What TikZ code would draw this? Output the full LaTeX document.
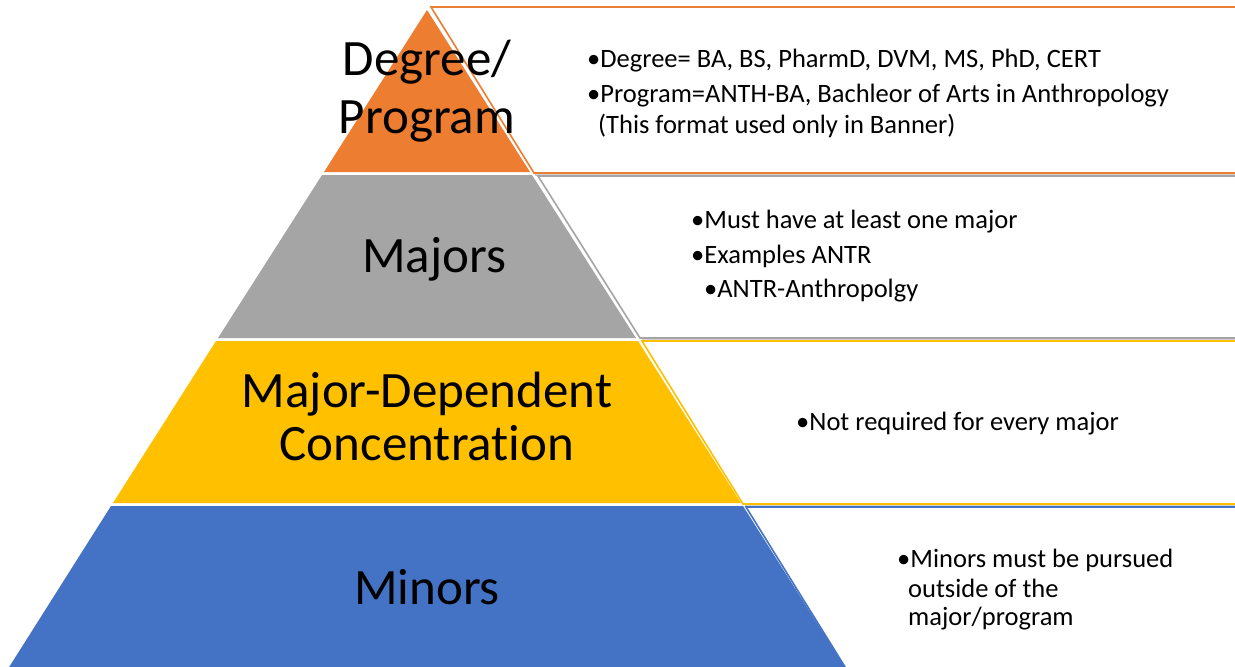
\documentclass[tikz,border=0pt]{standalone}
\usepackage{fontspec}
\setmainfont{Carlito}[Ligatures={NoCommon}]
\definecolor{cOrange}{HTML}{ED7D31}
\definecolor{cGray}{HTML}{A5A5A5}
\definecolor{cYellow}{HTML}{FFC000}
\definecolor{cBlue}{HTML}{4472C4}
\definecolor{cShadow}{HTML}{D0D0D0}
\tikzset{
  layerlabel/.style={align=center, anchor=base, font=\fontsize{51}{58}\selectfont, inner sep=0pt},
  boxtext/.style={anchor=base west, inner sep=0pt, font=\fontsize{26.5}{32}\selectfont},
  boxline/.style={line width=1.6pt},
  shadowline/.style={cShadow, line width=1.6pt},
}
\begin{document}
\begin{tikzpicture}[x=1pt,y=-1pt]
\useasboundingbox (0,0) rectangle (1235,667);
\fill[white] (0,0) rectangle (1235,667);
% ---------- right-hand boxes ----------
\draw[shadowline] (535,175) -- (1240,175);
\draw[cOrange, boxline] (1240,7) -- (431,7) -- (534,173) -- (1240,173);
\draw[shadowline] (642,340) -- (1240,340);
\draw[cGray, boxline] (1240,176) -- (538,176) -- (640,338) -- (1240,338);
\draw[shadowline] (745,506) -- (1240,506);
\draw[cYellow, boxline] (1240,341) -- (642,341) -- (743,504) -- (1240,504);
\draw[cBlue, boxline] (1240,507) -- (746,507) -- (850,675);
% ---------- pyramid layers ----------
\fill[cOrange] (427,10) -- (530,172) -- (324,172) -- cycle;
\fill[cGray] (322,175) -- (532,175) -- (636,338) -- (218,338) -- cycle;
\fill[cYellow] (216,341) -- (638,341) -- (741,503) -- (113,503) -- cycle;
\fill[cBlue] (111,506) -- (743,506) -- (848,672) -- (6,672) -- cycle;
% ---------- labels (base = baseline of last line) ----------
\node[layerlabel] (l1) at (427,133) {Degree/\\Program};
\node[layerlabel] (l2) at (434,272) {Majors};
\node[layerlabel, font=\fontsize{51}{53}\selectfont] (l3) at (427,460) {Major-Dependent\\Concentration};
\node[layerlabel] (l4) at (427,604) {Minors};
% ---------- box texts ----------
\node[boxtext] (t1a) at (587,67) {•Degree= BA, BS, PharmD, DVM, MS, PhD, CERT};
\node[boxtext] (t1b) at (587,102) {•Program=ANTH-BA, Bachleor of Arts in Anthropology};
\node[boxtext] (t1c) at (598,133) {(This format used only in Banner)};
\node[boxtext] (t2a) at (691,228) {•Must have at least one major};
\node[boxtext] (t2b) at (691,263) {•Examples ANTR};
\node[boxtext] (t2c) at (704,297) {•ANTR-Anthropolgy};
\node[boxtext] (t3a) at (796,430) {•Not required for every major};
\node[boxtext] (t4a) at (897,567) {•Minors must be pursued};
\node[boxtext] (t4b) at (908,597) {outside of the};
\node[boxtext] (t4c) at (908,625) {major/program};
\end{tikzpicture}
\end{document}
